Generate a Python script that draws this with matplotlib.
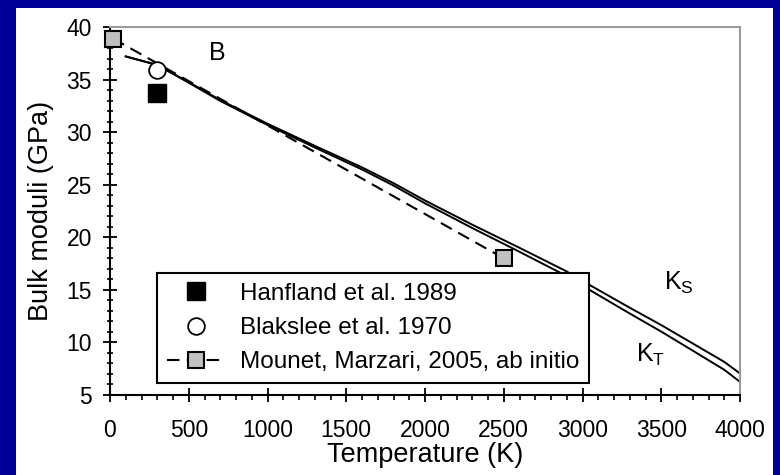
import matplotlib
matplotlib.use("Agg")
import matplotlib.pyplot as plt
from matplotlib.patches import Rectangle
from matplotlib.ticker import MultipleLocator

plt.rcParams['font.family'] = ['Liberation Sans', 'DejaVu Sans']
plt.rcParams['mathtext.fontset'] = 'custom'
plt.rcParams['mathtext.rm'] = 'Liberation Sans'
plt.rcParams['mathtext.default'] = 'regular'

# Calculated adiabatic (K_S) and isothermal (K_T) bulk moduli
temp_calc = [100, 300, 500, 700, 1000, 1300, 1600, 1800, 2000, 2300,
             2600, 2900, 3000, 3300, 3500, 3700, 3900, 4000]
k_s = [37.2, 36.4, 34.75, 33.05, 30.8, 28.7, 26.65, 25.15, 23.5, 21.2,
       19.0, 16.75, 15.85, 13.3, 11.65, 9.9, 8.15, 7.05]
k_t = [37.2, 36.38, 34.7, 32.97, 30.68, 28.54, 26.45, 24.92, 23.23, 20.88,
       18.62, 16.31, 15.39, 12.75, 11.03, 9.22, 7.4, 6.25]

# Experimental and ab initio reference values
hanfland_t, hanfland_b = [300], [33.7]
blakslee_t, blakslee_b = [300], [35.95]
mounet_t, mounet_b = [20, 2500], [38.9, 18.0]

navy = '#000096'
W, H = 780, 475
fig = plt.figure(figsize=(W / 100, H / 100), dpi=100, facecolor=navy)
fig.patches.append(Rectangle((16 / W, 0), (773 - 16) / W, (H - 8) / H,
                             transform=fig.transFigure, facecolor='white',
                             edgecolor='none', zorder=-10))

ax = fig.add_axes([110 / W, 80 / H, 630 / W, 368 / H])
ax.set_xlim(0, 4000)
ax.set_ylim(5, 40)

ax.plot(temp_calc, k_s, color='black', lw=1.4, zorder=2)
ax.plot(temp_calc, k_t, color='black', lw=1.4, zorder=2)

ax.plot(hanfland_t, hanfland_b, ls='none', marker='s', ms=12.5,
        mfc='black', mec='black', label='Hanfland et al. 1989', zorder=4)
ax.plot(blakslee_t, blakslee_b, ls='none', marker='o', ms=12,
        mfc='white', mec='black', mew=1.3, label='Blakslee et al. 1970', zorder=4)
ax.plot(mounet_t, mounet_b, color='black', lw=1.5, dashes=(6, 3.5),
        marker='s', ms=11, mfc='#c0c0c0', mec='black', mew=1.5,
        label='Mounet, Marzari, 2005, ab initio', zorder=3, clip_on=False)

ax.text(680, 37.5, 'B', fontsize=18, ha='center', va='center')
ax.text(3610, 15.7, r'K$_\mathrm{S}$', fontsize=18, ha='center', va='center')
ax.text(3430, 8.8, r'K$_\mathrm{T}$', fontsize=18, ha='center', va='center')

for side in ('left', 'bottom'):
    ax.spines[side].set_color('black')
    ax.spines[side].set_linewidth(1.5)
for side in ('top', 'right'):
    ax.spines[side].set_color('#9a9a9a')
    ax.spines[side].set_linewidth(1.5)

ax.xaxis.set_major_locator(MultipleLocator(500))
ax.xaxis.set_minor_locator(MultipleLocator(100))
ax.yaxis.set_major_locator(MultipleLocator(5))
ax.yaxis.set_minor_locator(MultipleLocator(1))
ax.tick_params(axis='x', which='major', direction='inout', length=10, width=1.3,
               labelsize=16.5, pad=12, top=False)
ax.tick_params(axis='x', which='minor', direction='out', length=3.5, width=1.2, top=False)
ax.tick_params(axis='y', which='major', direction='inout', length=10, width=1.3,
               labelsize=16.5, pad=8, right=False)
ax.tick_params(axis='y', which='minor', direction='inout', length=5, width=1.2, right=False)

ax.set_xlabel('Temperature (K)', fontsize=19.5, labelpad=0)
ax.set_ylabel('Bulk moduli (GPa)', fontsize=19.5, labelpad=9)

leg = ax.legend(loc='lower left', bbox_to_anchor=(0.0746, 0.0326), borderaxespad=0,
                fontsize=17.5, frameon=True, fancybox=False, framealpha=1,
                edgecolor='black', handlelength=2.4, handletextpad=0.6,
                labelspacing=0.5, borderpad=0.4, numpoints=1)
leg.get_frame().set_linewidth(1.5)
leg.set_zorder(5)

fig.savefig('out.png', dpi=100, facecolor=navy)
